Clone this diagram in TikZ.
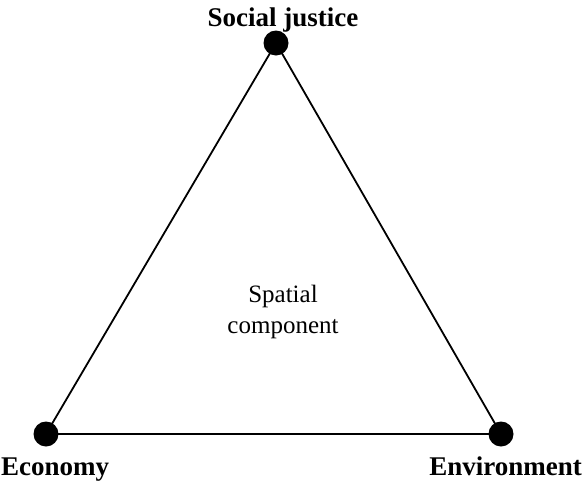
\documentclass[tikz,border=0pt]{standalone}
\usepackage{fontspec}
\setmainfont{Liberation Serif}
\begin{document}
\begin{tikzpicture}[x=1pt,y=-1pt,
  dot/.style={circle,fill=black,inner sep=0pt,minimum size=25pt},
  lbl/.style={font=\fontsize{27}{32}\selectfont\bfseries,inner sep=0pt,anchor=base},
  mid/.style={font=\fontsize{25}{31}\selectfont,inner sep=0pt,align=center,anchor=base}]
\useasboundingbox (0,0) rectangle (582,483);
\node[dot] (s) at (276,43) {};
\node[dot] (e) at (46,434) {};
\node[dot] (v) at (501,434) {};
\draw[line width=1.8pt] (s.center) -- (e.center) -- (v.center) -- cycle;
\node[lbl] (ls) at (283,26) {Social justice};
\node[lbl,anchor=base west] (le) at (1,475) {Economy};
\node[lbl,anchor=base east] (lv) at (582,475) {Environment};
\node[mid] (sp) at (283,302) {Spatial};
\node[mid] (co) at (283,333) {component};
\end{tikzpicture}
\end{document}
